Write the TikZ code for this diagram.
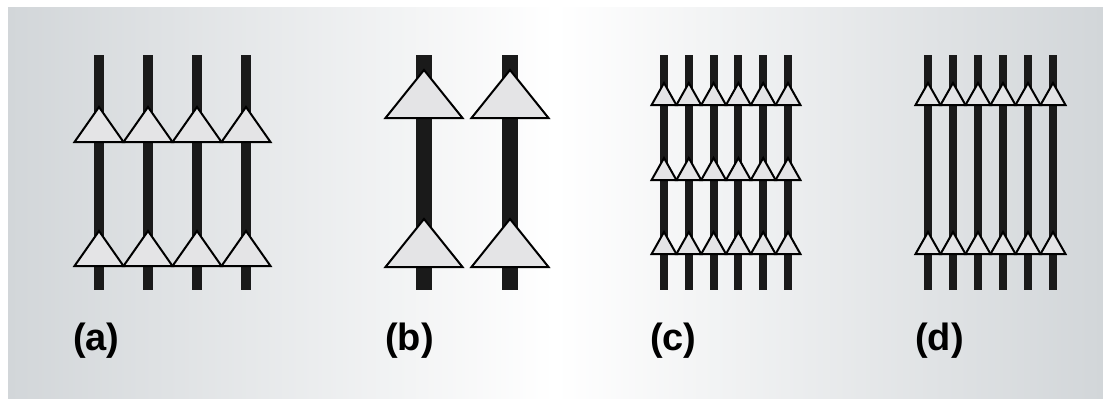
\documentclass[tikz,border=0pt]{standalone}
\usepackage{fontspec}
\setmainfont{Liberation Sans}
\usepackage{tikz}

\definecolor{bgside}{HTML}{D2D6D9}
\definecolor{trifill}{HTML}{E4E4E6}
\definecolor{barcol}{HTML}{1A1A1A}

\tikzset{
  bar/.style={draw=barcol, line width=#1},
  tri/.style={draw=black, fill=trifill, line width=2pt},
  lbl/.style={anchor=base west, inner sep=0pt, font=\bfseries\fontsize{38}{40}\selectfont}
}

\begin{document}
\begin{tikzpicture}[x=1pt, y=-1pt]
                    \useasboundingbox (0,0) rectangle (1103,408);
                    % Background
                    \fill[white] (0,0) rectangle (1103,408);
                    \shade[left color=bgside, right color=bgside, middle color=white] (8,7) rectangle (1103,398);
                    % Bars
                    \foreach \i in {0,...,3} {
                        \coordinate (a\i t) at ({99+49*\i},55);
                        \coordinate (a\i b) at ({99+49*\i},290);
                        \draw[bar=10pt] (a\i t) -- (a\i b);
                    }
                    \foreach \i in {0,1} {
                        \coordinate (b\i t) at ({424+86*\i},55);
                        \coordinate (b\i b) at ({424+86*\i},290);
                        \draw[bar=16pt] (b\i t) -- (b\i b);
                    }
                    \foreach \i in {0,...,5} {
                        \coordinate (c\i t) at ({664+24.8*\i},55);
                        \coordinate (c\i b) at ({664+24.8*\i},290);
                        \draw[bar=8pt] (c\i t) -- (c\i b);
                        \coordinate (d\i t) at ({928+25*\i},55);
                        \coordinate (d\i b) at ({928+25*\i},290);
                        \draw[bar=8pt] (d\i t) -- (d\i b);
                    }
                    % Triangles
                    \foreach \i in {0,...,3}
                        \foreach \ty in {107,231}
                            \filldraw[tri] ({99+49*\i-24.5},\ty+35) -- ++(24.5,-35) -- ++(24.5,35) -- cycle;
                    \foreach \i in {0,1}
                        \foreach \ty in {70,219}
                            \filldraw[tri] ({424+86*\i-38.5},\ty+48) -- ++(38.5,-48) -- ++(38.5,48) -- cycle;
                    \foreach \i in {0,...,5}
                        \foreach \ty in {83,158,232}
                            \filldraw[tri] ({664+24.8*\i-12.4},\ty+22) -- ++(12.4,-22) -- ++(12.4,22) -- cycle;
                    \foreach \i in {0,...,5}
                        \foreach \ty in {83,232}
                            \filldraw[tri] ({928+25*\i-12.5},\ty+22) -- ++(12.5,-22) -- ++(12.5,22) -- cycle;
                    % Labels
                    \node[lbl] (la) at (73,350) {(a)};
                    \node[lbl] (lb) at (385,350) {(b)};
                    \node[lbl] (lc) at (650,350) {(c)};
                    \node[lbl] (ld) at (915,350) {(d)};
                \end{tikzpicture}
\end{document}
